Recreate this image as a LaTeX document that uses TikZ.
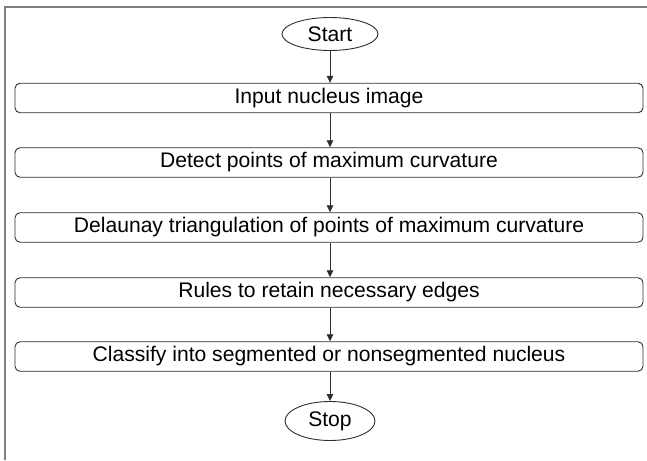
\documentclass[tikz,border=0pt]{standalone}
\usepackage{fontspec}
\setmainfont{Liberation Sans}
\usetikzlibrary{shapes.geometric,arrows.meta}
\definecolor{boxc}{HTML}{2E2E2E}
\definecolor{framec}{HTML}{808080}
\begin{document}
\begin{tikzpicture}[x=1pt,y=-1pt,
  proc/.style={draw=boxc, line width=0.9pt, rounded corners=5pt, minimum width=628pt,
    minimum height=29.5pt, inner sep=0pt, font=\fontsize{21.1}{24}\selectfont},
  term/.style={ellipse, draw=boxc, line width=0.9pt, inner sep=0pt,
    font=\fontsize{21.1}{24}\selectfont},
  arr/.style={draw=boxc, line width=0.8pt, -{Triangle[length=7pt,width=6.5pt]}}]
\useasboundingbox (0,0) rectangle (647,460);
\draw[framec, line width=1.2pt] (5,460) -- (5,7) -- (647,7);
\node[term, minimum width=96pt, minimum height=33pt] (start) at (330,34) {Start};
\node[proc] (b1) at (329,98) {Input nucleus image};
\node[proc] (b2) at (329,162.5) {Detect points of maximum curvature};
\node[proc] (b3) at (329,227.5) {Delaunay triangulation of points of maximum curvature};
\node[proc] (b4) at (329,292.5) {Rules to retain necessary edges};
\node[proc] (b5) at (329,356.5) {Classify into segmented or nonsegmented nucleus};
\node[term, minimum width=90pt, minimum height=39pt] (stop) at (330,421) {Stop};
\draw[arr] (start.south) -- (start.south |- b1.north);
\draw[arr] (b1.south -| start) -- (b2.north -| start);
\draw[arr] (b2.south -| start) -- (b3.north -| start);
\draw[arr] (b3.south -| start) -- (b4.north -| start);
\draw[arr] (b4.south -| start) -- (b5.north -| start);
\draw[arr] (b5.south -| start) -- (stop.north);
\end{tikzpicture}
\end{document}
